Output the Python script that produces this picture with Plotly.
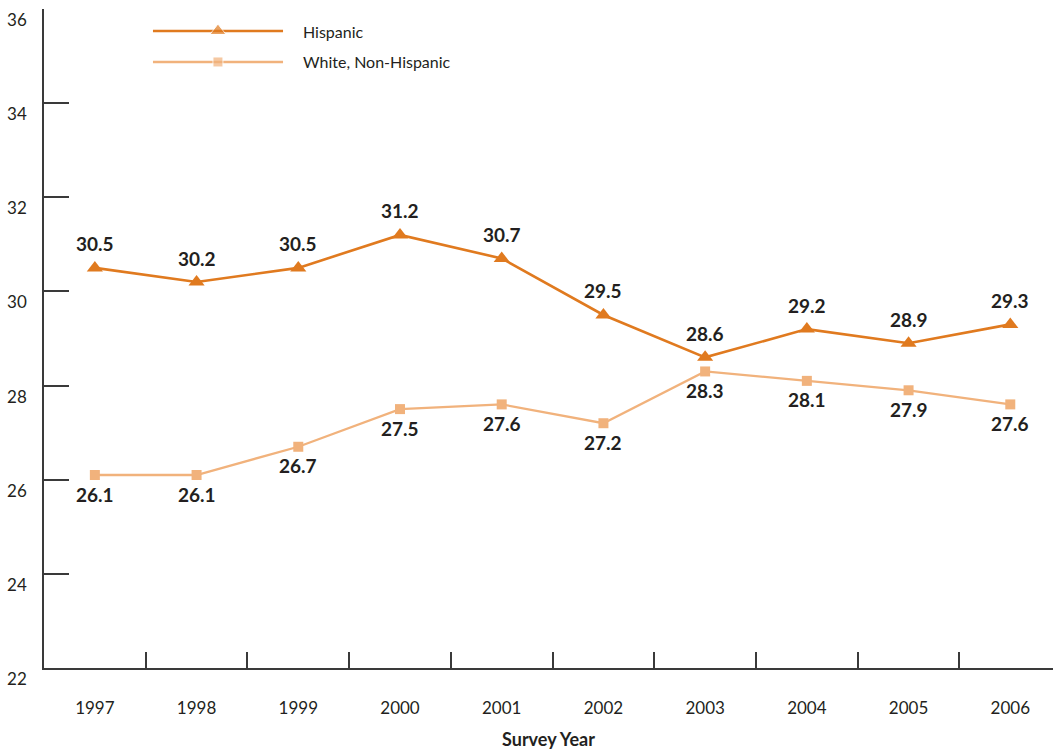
import plotly.graph_objects as go

# Survey data
years = ["1997", "1998", "1999", "2000", "2001", "2002", "2003", "2004", "2005", "2006"]
hispanic = [30.5, 30.2, 30.5, 31.2, 30.7, 29.5, 28.6, 29.2, 28.9, 29.3]
white_non_hispanic = [26.1, 26.1, 26.7, 27.5, 27.6, 27.2, 28.3, 28.1, 27.9, 27.6]
y_ticks = [22, 24, 26, 28, 30, 32, 34, 36]

HISP_COLOR = "#E07A1F"
WHITE_COLOR = "#F1B27C"
TEXT_COLOR = "#231F20"
AXIS_COLOR = "#3a3a3a"
FONT = "Lato, 'DejaVu Sans', sans-serif"

xpos = list(range(len(years)))

fig = go.Figure()

fig.add_trace(go.Scatter(
    x=xpos, y=hispanic, mode="lines+markers", name="Hispanic",
    line=dict(color=HISP_COLOR, width=2.6),
    marker=dict(symbol="triangle-up", size=14, color=HISP_COLOR),
    showlegend=False, hoverinfo="skip",
))
fig.add_trace(go.Scatter(
    x=xpos, y=white_non_hispanic, mode="lines+markers", name="White, Non-Hispanic",
    line=dict(color=WHITE_COLOR, width=2.3),
    marker=dict(symbol="square", size=10, color=WHITE_COLOR),
    showlegend=False, hoverinfo="skip",
))

# Value labels: Hispanic above the points, White below
annotations = []
for x, v in zip(xpos, hispanic):
    annotations.append(dict(x=x, y=v, xref="x", yref="y", text=f"<b>{v:.1f}</b>",
                            showarrow=False, yshift=24,
                            font=dict(family=FONT, size=19, color=TEXT_COLOR)))
for x, v in zip(xpos, white_non_hispanic):
    annotations.append(dict(x=x, y=v, xref="x", yref="y", text=f"<b>{v:.1f}</b>",
                            showarrow=False, yshift=-19,
                            font=dict(family=FONT, size=19, color=TEXT_COLOR)))

# Legend drawn on a hidden overlay axis pair spanning the plot area
legend_items = [("Hispanic", HISP_COLOR, "triangle-up", 14, 2.6, 0.9666),
                ("White, Non-Hispanic", WHITE_COLOR, "square", 10, 2.3, 0.9196)]
for label, color, symbol, msize, lw, ly in legend_items:
    fig.add_trace(go.Scatter(
        x=[0.108, 0.1724, 0.2369], y=[ly, ly, ly], xaxis="x3", yaxis="y3",
        mode="lines+markers", line=dict(color=color, width=lw),
        marker=dict(symbol=symbol, size=[0, msize, 0], color=color),
        showlegend=False, hoverinfo="skip",
    ))
    annotations.append(dict(x=0.2547, y=ly, xref="x3", yref="y3", text=label,
                            xanchor="left", yanchor="middle", showarrow=False,
                            font=dict(family=FONT, size=16, color=TEXT_COLOR)))

# Invisible trace so the tick-mark axis is rendered
fig.add_trace(go.Scatter(x=[0], y=[22], xaxis="x2", yaxis="y", mode="markers",
                         marker=dict(size=0, opacity=0), showlegend=False,
                         hoverinfo="skip"))

xrange = [-0.5, 9.42]

fig.update_layout(
    width=1053, height=750,
    margin=dict(l=44, r=0, t=9, b=82),
    plot_bgcolor="white", paper_bgcolor="white",
    font=dict(family=FONT, color=TEXT_COLOR),
    annotations=annotations,
    xaxis=dict(
        range=xrange, tickvals=xpos, ticktext=years, ticks="",
        showline=True, linecolor=AXIS_COLOR, linewidth=2,
        showgrid=False, zeroline=False,
        ticklabelstandoff=24,
        tickfont=dict(family=FONT, size=17, color=TEXT_COLOR),
        title=dict(text="<b>Survey Year</b>", standoff=16,
                   font=dict(family=FONT, size=18, color=TEXT_COLOR)),
    ),
    xaxis2=dict(
        range=xrange, overlaying="x", anchor="y", side="bottom",
        tickvals=[i + 0.5 for i in xpos[:-1]], ticks="inside", ticklen=16,
        tickwidth=1.5, tickcolor=AXIS_COLOR,
        showticklabels=False, showline=False, showgrid=False, zeroline=False,
    ),
    yaxis=dict(
        range=[22, 36], tickvals=y_ticks, ticks="inside", ticklen=25,
        tickwidth=1.5, tickcolor=AXIS_COLOR,
        showline=True, linecolor=AXIS_COLOR, linewidth=1.5,
        showgrid=False, zeroline=False,
        ticklabelshift=11, ticklabelstandoff=12,
        tickfont=dict(family=FONT, size=17, color=TEXT_COLOR),
    ),
    xaxis3=dict(range=[0, 1], overlaying="x", anchor="y3", visible=False),
    yaxis3=dict(range=[0, 1], overlaying="y", anchor="x3", visible=False),
)

fig.write_html("out.html")
